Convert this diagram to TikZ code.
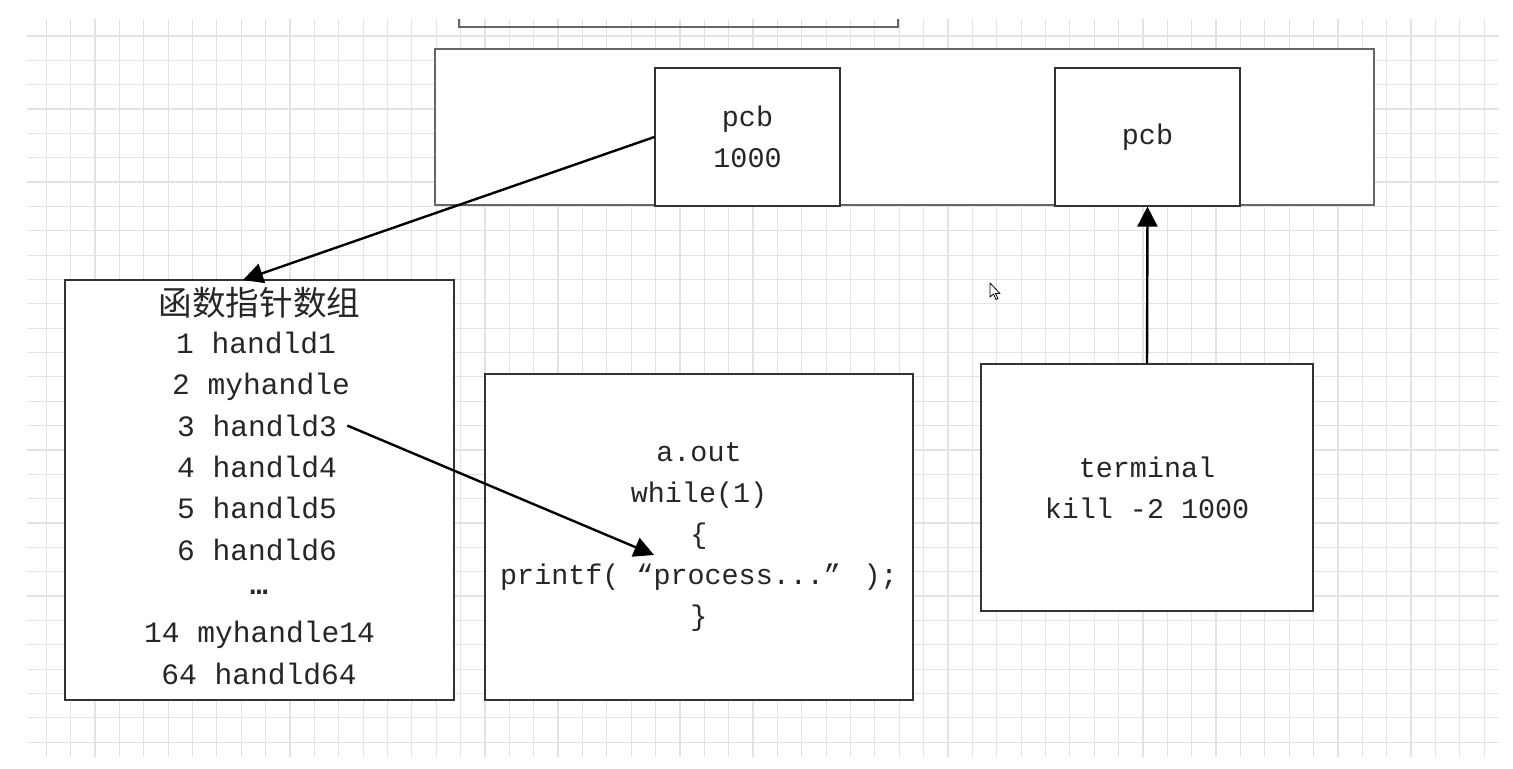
\documentclass[tikz,border=0pt]{standalone}
\usepackage{fontspec}
\usetikzlibrary{arrows.meta}
\newfontfamily\codefont{Liberation Mono}
\newfontfamily\cjk{Noto Sans CJK SC}
\begin{document}
\begin{tikzpicture}[x=0.5pt,y=-0.5pt,
  box/.style={draw=black!80, line width=0.6pt, fill=white, inner sep=0pt},
  frame/.style={draw=black!60, line width=0.9pt, fill=white},
  txt/.style={text=black!85, font=\codefont\fontsize{14.2pt}{20.5pt}\selectfont, align=center},
  entry/.style={text=black!85, font=\codefont\fontsize{14.8pt}{20.5pt}\selectfont, inner sep=0pt, anchor=base},
  link/.style={draw=black, line width=1.2pt, -{Triangle[length=10pt,width=10pt]}},
  gridline/.style={draw=black!11, line width=0.6pt}]

\useasboundingbox (0,0) rectangle (1513,769);

% background grid
\foreach \k in {0,...,59}
  \draw[gridline] ({46.3+24.37*\k},19) -- ({46.3+24.37*\k},757);
\foreach \k in {0,...,29}
  \draw[gridline] (27,{36+24.35*\k}) -- (1499,{36+24.35*\k});

% bottom of the box above, cut off at the top
\draw[draw=black!60, line width=0.9pt] (459,19) -- (459,27) -- (898,27) -- (898,19);

% kernel area with the two process control blocks
\node[frame, minimum width=469.5pt, minimum height=78pt] (kernel) at (904.5,127) {};
\node[box, txt, minimum width=92.5pt, minimum height=69pt] (pcbA) at (747.5,137) {pcb\\1000};
\node[box, txt, minimum width=92.5pt, minimum height=69pt] (pcbB) at (1147.5,137) {pcb};

% table of signal handlers
\node[box, minimum width=194.5pt, minimum height=210pt] (funcs) at (259.5,490) {};
\node[entry, font=\cjk\fontsize{16.8pt}{20pt}\selectfont] (title) at (259.5,316) {函数指针数组};
\node[entry] (h1)  at (256,353.5) {1 handld1};
\node[entry] (h2)  at (261,394.8) {2 myhandle};
\node[entry] (h3)  at (257,436.1) {3 handld3};
\node[entry] (h4)  at (257,477.4) {4 handld4};
\node[entry] (h5)  at (257,518.7) {5 handld5};
\node[entry] (h6)  at (257,560.0) {6 handld6};
\node[entry, font=\codefont\bfseries\fontsize{14.8pt}{20.5pt}\selectfont] (dots) at (259,594) {…};
\node[entry] (h14) at (259.5,642.6) {14 myhandle14};
\node[entry] (h64) at (259,684) {64 handld64};

% running program
\node[box, txt, minimum width=214pt, minimum height=163pt] (aout) at (699,537)
  {a.out\\while(1)\\\{\\printf( “process...” );\\\}};

% terminal sending the signal
\node[box, txt, minimum width=166pt, minimum height=123.5pt] (term) at (1147,487.5)
  {terminal\\kill -2 1000};

% connectors
\coordinate (tableTop) at (243,280);
\coordinate (loopBody) at (654,555);
\draw[link] (pcbA.west) -- (tableTop);
\draw[link] ([xshift=5pt]h3.east) -- (loopBody);
\draw[link] (term.north) -- (pcbB.south);

% mouse pointer
\draw[fill=white, draw=black, line width=0.4pt, line join=round]
  (990,283) -- ++(0,14) -- ++(3.5,-3) -- ++(2.5,5.5) -- ++(2,-1)
  -- ++(-2.5,-5) -- ++(4.5,0) -- cycle;
\end{tikzpicture}
\end{document}
